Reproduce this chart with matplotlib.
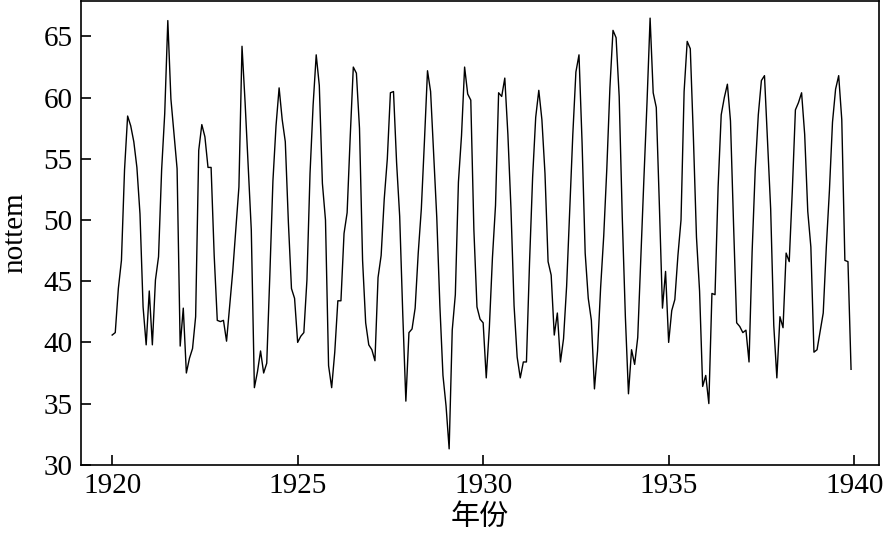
import matplotlib
matplotlib.use("Agg")
import matplotlib.pyplot as plt
import numpy as np

# nottem: average monthly air temperatures at Nottingham, 1920-1939
years = list(range(1920, 1940))
temps = [
    [40.6, 40.8, 44.4, 46.7, 54.1, 58.5, 57.7, 56.4, 54.3, 50.5, 42.9, 39.8],
    [44.2, 39.8, 45.1, 47.0, 54.1, 58.7, 66.3, 59.9, 57.0, 54.2, 39.7, 42.8],
    [37.5, 38.7, 39.5, 42.1, 55.7, 57.8, 56.8, 54.3, 54.3, 47.1, 41.8, 41.7],
    [41.8, 40.1, 42.9, 45.8, 49.2, 52.7, 64.2, 59.6, 54.4, 49.2, 36.3, 37.6],
    [39.3, 37.5, 38.3, 45.5, 53.2, 57.7, 60.8, 58.2, 56.4, 49.8, 44.4, 43.6],
    [40.0, 40.5, 40.8, 45.1, 53.8, 59.4, 63.5, 61.0, 53.0, 50.0, 38.1, 36.3],
    [39.2, 43.4, 43.4, 48.9, 50.6, 56.8, 62.5, 62.0, 57.5, 46.7, 41.6, 39.8],
    [39.4, 38.5, 45.3, 47.1, 51.7, 55.0, 60.4, 60.5, 54.7, 50.3, 42.3, 35.2],
    [40.8, 41.1, 42.8, 47.3, 50.9, 56.4, 62.2, 60.5, 55.4, 50.2, 43.0, 37.3],
    [34.8, 31.3, 41.0, 43.9, 53.1, 56.9, 62.5, 60.3, 59.8, 49.2, 42.9, 41.9],
    [41.6, 37.1, 41.2, 46.9, 51.2, 60.4, 60.1, 61.6, 57.0, 50.9, 43.0, 38.8],
    [37.1, 38.4, 38.4, 46.5, 53.5, 58.4, 60.6, 58.2, 53.8, 46.6, 45.5, 40.6],
    [42.4, 38.4, 40.3, 44.6, 50.9, 57.0, 62.1, 63.5, 56.3, 47.3, 43.6, 41.8],
    [36.2, 39.3, 44.5, 48.7, 54.2, 60.8, 65.5, 64.9, 60.1, 50.2, 42.1, 35.8],
    [39.4, 38.2, 40.4, 46.9, 53.4, 59.6, 66.5, 60.4, 59.2, 51.2, 42.8, 45.8],
    [40.0, 42.6, 43.5, 47.1, 50.0, 60.5, 64.6, 64.0, 56.8, 48.6, 44.2, 36.4],
    [37.3, 35.0, 44.0, 43.9, 52.7, 58.6, 60.0, 61.1, 58.1, 49.6, 41.6, 41.3],
    [40.8, 41.0, 38.4, 47.4, 54.1, 58.6, 61.4, 61.8, 56.3, 50.9, 41.4, 37.1],
    [42.1, 41.2, 47.3, 46.6, 52.4, 59.0, 59.6, 60.4, 57.0, 50.7, 47.8, 39.2],
    [39.4, 40.9, 42.4, 47.8, 52.4, 58.0, 60.7, 61.8, 58.2, 46.7, 46.6, 37.8],
]
xticks = [1920, 1925, 1930, 1935, 1940]
yticks = [30, 35, 40, 45, 50, 55, 60, 65]

values = np.array(temps).ravel()
t = years[0] + np.arange(len(values)) / 12

plt.rcParams["font.family"] = ["Liberation Serif", "Noto Sans CJK SC"]

fig = plt.figure(figsize=(8.83, 5.36), dpi=100)
ax = fig.add_axes([81 / 883, 1 - 465 / 536, 798 / 883, 464 / 536])
ax.plot(t, values, color="black", linewidth=1.0)

ax.set_xlim(1919.16, 1940.67)
ax.set_ylim(29.98, 67.9)
ax.set_xticks(xticks)
ax.set_yticks(yticks)
ax.tick_params(direction="in", length=7, width=1.2, labelsize=21, pad=6)
for s in ax.spines.values():
    s.set_linewidth(1.2)

ax.set_xlabel("年份", fontsize=21, labelpad=2,
              family=["Noto Sans CJK SC"])
ax.set_ylabel("nottem", fontsize=21, labelpad=11)

fig.savefig("out.png", dpi=100)
